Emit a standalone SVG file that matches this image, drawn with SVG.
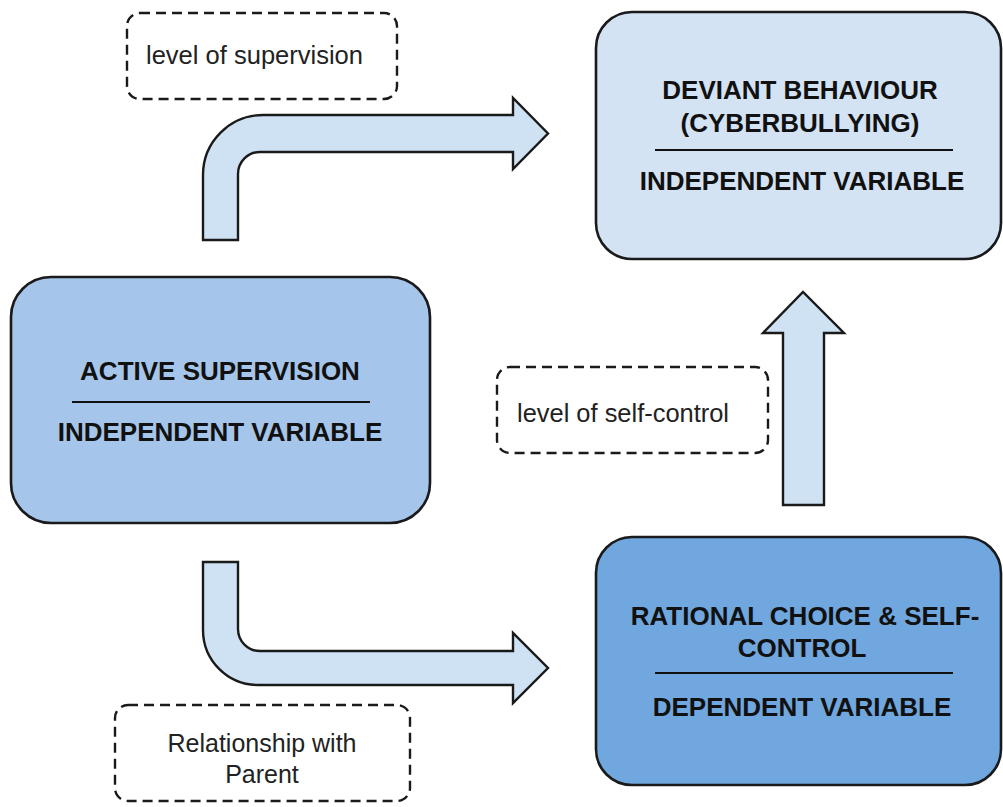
<svg xmlns="http://www.w3.org/2000/svg" width="1003" height="807" viewBox="0 0 1003 807">
<style>
.box{stroke:#1a1a1a;stroke-width:2.6}
.arrow{fill:#cfe2f3;stroke:#1a1a1a;stroke-width:2.4;stroke-linejoin:miter}
.dash{fill:none;stroke:#1a1a1a;stroke-width:2.4;stroke-dasharray:10,6}
.bt{font-family:"Liberation Sans",Arial,sans-serif;font-weight:bold;font-size:26px;fill:#111;text-anchor:middle}
.lt{font-family:"Liberation Sans",Arial,sans-serif;font-size:25px;fill:#222}
.sep{stroke:#111;stroke-width:2.2}
</style>
<rect width="1003" height="807" fill="#ffffff"/>
<g id="connectors">
<path class="arrow" d="M203,240 L203,175 A60,60 0 0 1 263,115 L513,115 L513,98 L548,133.5 L513,169 L513,152 L260,152 A22,22 0 0 0 238,174 L238,240 Z"/>
<path class="arrow" d="M203,562 L203,630 A55,55 0 0 0 258,685 L513,685 L513,703 L548,668 L513,633 L513,651 L260,651 A22,22 0 0 1 238,629 L238,562 Z"/>
<path class="arrow" d="M783,505 L783,333 L763,333 L803,292 L844,333 L824,333 L824,505 Z"/>
</g>
<g id="node-deviant">
<rect class="box" x="596" y="12" width="405" height="247" rx="36" fill="#d3e3f4"/>
<text class="bt" x="800" y="99">DEVIANT BEHAVIOUR</text>
<text class="bt" x="800" y="132">(CYBERBULLYING)</text>
<line class="sep" x1="655" y1="150" x2="953" y2="150"/>
<text class="bt" x="802" y="190">INDEPENDENT VARIABLE</text>
</g>
<g id="node-active">
<rect class="box" x="11" y="277" width="419" height="246" rx="40" fill="#a5c6ea"/>
<text class="bt" x="220" y="380">ACTIVE SUPERVISION</text>
<line class="sep" x1="72" y1="402" x2="370" y2="402"/>
<text class="bt" x="220" y="441">INDEPENDENT VARIABLE</text>
</g>
<g id="node-rational">
<rect class="box" x="596" y="537" width="405" height="248" rx="36" fill="#70a7de"/>
<text class="bt" x="805" y="625">RATIONAL CHOICE &amp; SELF-</text>
<text class="bt" x="802" y="657">CONTROL</text>
<line class="sep" x1="655" y1="673" x2="953" y2="673"/>
<text class="bt" x="802" y="716">DEPENDENT VARIABLE</text>
</g>
<g id="label-supervision">
<rect class="dash" x="127" y="13" width="270" height="86" rx="13"/>
<text class="lt" x="146" y="64" textLength="217" lengthAdjust="spacingAndGlyphs">level of supervision</text>
</g>
<g id="label-selfcontrol">
<rect class="dash" x="497" y="367" width="271" height="86" rx="13"/>
<text class="lt" x="517" y="422" textLength="212" lengthAdjust="spacingAndGlyphs">level of self-control</text>
</g>
<g id="label-parent">
<rect class="dash" x="115" y="705" width="295" height="96" rx="13"/>
<text class="lt" x="262" y="752" text-anchor="middle">Relationship with</text>
<text class="lt" x="262" y="783" text-anchor="middle">Parent</text>
</g>
</svg>
